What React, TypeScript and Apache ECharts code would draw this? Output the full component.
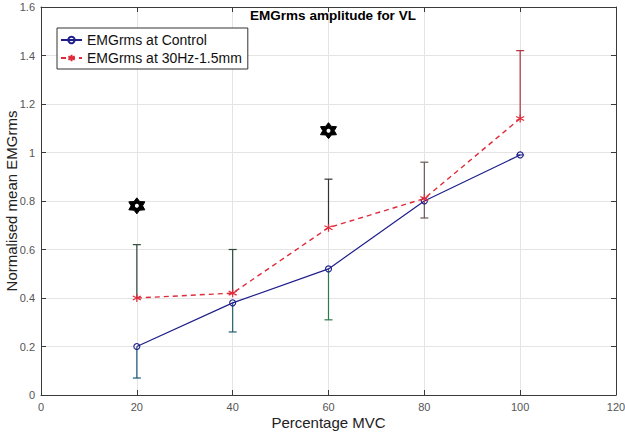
import React, { useEffect, useRef } from "react";
import * as echarts from "echarts";

const mvc = [20, 40, 60, 80, 100];
const controlMean = [0.2, 0.38, 0.52, 0.8, 0.99];
const stimMean = [0.4, 0.42, 0.69, 0.81, 1.14];
const controlLower = [0.07, 0.26, 0.31, 0.73, 0.99];
const stimUpper = [0.62, 0.6, 0.89, 0.96, 1.42];
const controlBarColors = ["#1d5a78", "#245f6e", "#2d7a4a", "#6a5858", "#3a3a8a"];
const stimBarColors = ["#2f4a3a", "#2f4a3a", "#333333", "#6a5858", "#b0303e"];
const sigX = [20, 60];
const sigY = [0.78, 1.09];
const xTicks = { min: 0, max: 120, interval: 20 };
const yTicks = { min: 0, max: 1.6, interval: 0.2 };

function hexagramPath(): string {
  const pts: string[] = [];
  for (let k = 0; k < 12; k++) {
    const a = (Math.PI / 6) * k - Math.PI / 2;
    const r = k % 2 === 0 ? 1 : 0.62;
    pts.push(`${(r * Math.cos(a)).toFixed(3)},${(r * Math.sin(a)).toFixed(3)}`);
  }
  return "path://M" + pts.join("L") + "Z";
}

export default function App() {
  const ref = useRef<HTMLDivElement>(null);
  useEffect(() => {
    if (!ref.current) return;
    const chart = echarts.init(ref.current, undefined, { renderer: "svg" });
    const font = "Liberation Sans, Arial, sans-serif";
    const axisLineColor = "#3a3a3a";
    const labelColor = "#555555";

    const barData: any[] = [];
    mvc.forEach((x, i) => {
      barData.push([x, controlLower[i], controlMean[i], 0, i]);
      barData.push([x, stimMean[i], stimUpper[i], 1, i]);
    });

    const option: any = {
      animation: false,
      backgroundColor: "#ffffff",
      title: {
        text: "EMGrms amplitude for VL",
        left: 328,
        top: 3,
        textAlign: "center",
        textStyle: { fontFamily: font, fontSize: 13.5, fontWeight: "bold", color: "#000" },
      },
      legend: {
        orient: "vertical",
        left: 57,
        top: 28,
        padding: [5, 6, 4, 3],
        itemGap: 4,
        itemWidth: 21,
        itemHeight: 8,
        backgroundColor: "#ffffff",
        borderColor: "#333333",
        borderWidth: 1,
        borderRadius: 0,
        textStyle: { fontFamily: font, fontSize: 14, color: "#111" },
        data: ["EMGrms at Control", "EMGrms at 30Hz-1.5mm"],
      },
      grid: { left: 41, right: 9, top: 7, bottom: 39, outerBoundsMode: "none", containLabel: false },
      xAxis: [
        {
          type: "value",
          ...xTicks,
          name: "Percentage MVC",
          nameLocation: "middle",
          nameGap: 20,
          nameMoveOverlap: false,
          nameTextStyle: { fontFamily: font, fontSize: 15, color: "#222" },
          axisLine: { show: true, lineStyle: { color: axisLineColor } },
          axisTick: { show: true, inside: true, length: 5, lineStyle: { color: axisLineColor } },
          axisLabel: { fontFamily: font, fontSize: 11, color: labelColor, margin: 6 },
          splitLine: { show: true, lineStyle: { color: "#e4e4e4" } },
        },
        {
          type: "value",
          position: "top",
          ...xTicks,
          axisLine: { show: true, onZero: false, lineStyle: { color: axisLineColor } },
          axisTick: { show: true, inside: true, length: 5, lineStyle: { color: axisLineColor } },
          axisLabel: { show: false },
          splitLine: { show: false },
        },
      ],
      yAxis: [
        {
          type: "value",
          ...yTicks,
          name: "Normalised mean EMGrms",
          nameLocation: "middle",
          nameGap: 22,
          nameMoveOverlap: false,
          nameTextStyle: { fontFamily: font, fontSize: 15, color: "#222" },
          axisLine: { show: true, lineStyle: { color: axisLineColor } },
          axisTick: { show: true, inside: true, length: 5, lineStyle: { color: axisLineColor } },
          axisLabel: { fontFamily: font, fontSize: 11, color: labelColor, margin: 6 },
          splitLine: { show: true, lineStyle: { color: "#e4e4e4" } },
        },
        {
          type: "value",
          position: "right",
          ...yTicks,
          axisLine: { show: true, onZero: false, lineStyle: { color: axisLineColor } },
          axisTick: { show: true, inside: true, length: 5, lineStyle: { color: axisLineColor } },
          axisLabel: { show: false },
          splitLine: { show: false },
        },
      ],
      series: [
        {
          type: "custom",
          name: "errorbars",
          silent: true,
          z: 3,
          data: barData,
          renderItem: (params: any, api: any) => {
            const x = api.value(0);
            const lo = api.value(1);
            const hi = api.value(2);
            const which = api.value(3);
            const idx = api.value(4);
            const color = which === 0 ? controlBarColors[idx] : stimBarColors[idx];
            const p1 = api.coord([x, lo]);
            const p2 = api.coord([x, hi]);
            const hw = 4;
            const style = { stroke: color, lineWidth: 1.2 };
            return {
              type: "group",
              children: [
                { type: "line", shape: { x1: p1[0], y1: p1[1], x2: p2[0], y2: p2[1] }, style },
                which === 0
                  ? { type: "line", shape: { x1: p1[0] - hw, y1: p1[1], x2: p1[0] + hw, y2: p1[1] }, style }
                  : { type: "line", shape: { x1: p2[0] - hw, y1: p2[1], x2: p2[0] + hw, y2: p2[1] }, style },
              ],
            };
          },
        },
        {
          type: "line",
          name: "EMGrms at Control",
          z: 4,
          data: mvc.map((x, i) => [x, controlMean[i]]),
          symbol: "circle",
          symbolSize: 6,
          color: "#1f1f8c",
          lineStyle: { color: "#1f1f8c", width: 1.2 },
          itemStyle: { color: "rgba(255,255,255,0)", borderColor: "#1f1f8c", borderWidth: 1.1 },
        },
        {
          type: "line",
          name: "EMGrms at 30Hz-1.5mm",
          z: 5,
          data: mvc.map((x, i) => [x, stimMean[i]]),
          symbol: "path://M0,-1L0,1M-0.87,-0.5L0.87,0.5M-0.87,0.5L0.87,-0.5",
          symbolSize: 8,
          color: "#e02a3a",
          lineStyle: { color: "#e02a3a", width: 1.4, type: [5, 4] },
          itemStyle: { color: "none", borderColor: "#e02a3a", borderWidth: 1.2 },
        },
        {
          type: "scatter",
          name: "sig",
          z: 6,
          silent: true,
          data: sigX.map((x, i) => [x, sigY[i]]),
          symbol: hexagramPath(),
          symbolSize: 16,
          itemStyle: { color: "#000000", opacity: 1, borderColor: "#000", borderWidth: 1 },
        },
        {
          type: "scatter",
          name: "sigdot",
          z: 7,
          silent: true,
          data: sigX.map((x, i) => [x, sigY[i]]),
          symbol: "circle",
          symbolSize: 4,
          itemStyle: { color: "#ffffff", opacity: 1 },
        },
      ],
    };
    chart.setOption(option);
    return () => chart.dispose();
  }, []);
  return (
    <div
      ref={ref}
      style={{ position: "fixed", left: 0, top: 0, width: 625, height: 434 }}
    />
  );
}
